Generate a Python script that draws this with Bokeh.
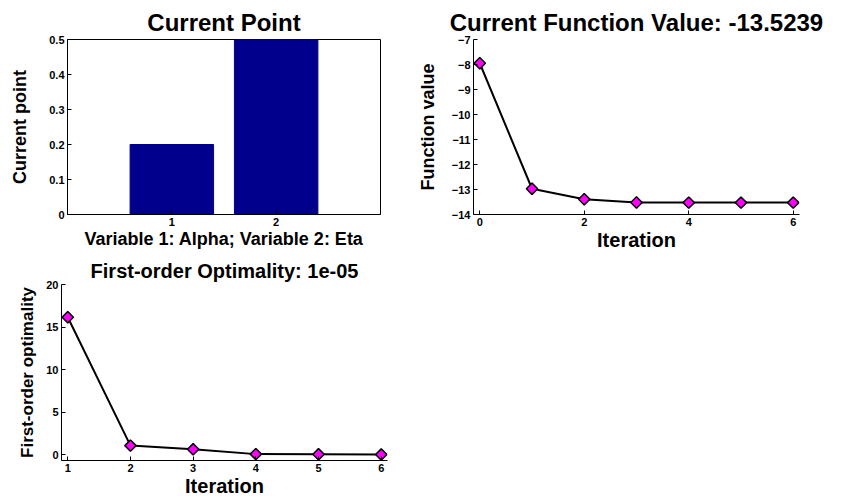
from bokeh.plotting import figure
from bokeh.layouts import column, row
from bokeh.models import Range1d, FixedTicker, Title
from bokeh.embed import file_html
from bokeh.resources import INLINE

# ---- data ----
variables = [1, 2]
current_point = [0.2, 0.5]
var_ticks = [1, 2]
cp_yticks = [0, 0.1, 0.2, 0.3, 0.4, 0.5]

iter_f = [0, 1, 2, 3, 4, 5, 6]
function_values = [-7.95, -12.97, -13.39, -13.52, -13.5239, -13.5239, -13.5239]
f_xticks = [0, 2, 4, 6]
f_yticks = [-14, -13, -12, -11, -10, -9, -8, -7]

iter_o = [1, 2, 3, 4, 5, 6]
optimality = [16.15, 1.05, 0.62, 0.05, 0.03, 0.00001]
o_xticks = [1, 2, 3, 4, 5, 6]
o_yticks = [0, 5, 10, 15, 20]

FONT = "Liberation Sans"
BAR = "#00008C"
MAG = "#FF00FF"


def style_axes(p, ylab_standoff, xlab_size, ylab_size):
    p.xgrid.visible = False
    p.ygrid.visible = False
    for ax in p.axis:
        ax.axis_line_color = "black"
        ax.axis_line_width = 1
        ax.major_tick_in = 4
        ax.major_tick_out = 0
        ax.minor_tick_line_color = None
        ax.major_tick_line_color = "black"
        ax.major_label_text_font = FONT
        ax.major_label_text_font_style = "bold"
        ax.major_label_text_font_size = "11px"
        ax.major_label_text_color = "black"
        ax.axis_label_text_font = FONT
        ax.axis_label_text_font_style = "bold"
        ax.axis_label_text_color = "black"
    p.xaxis.major_label_standoff = 3
    p.xaxis.axis_label_standoff = 0
    p.xaxis.axis_label_text_font_size = xlab_size
    p.yaxis.major_label_standoff = 3
    p.yaxis.axis_label_standoff = ylab_standoff
    p.yaxis.axis_label_text_font_size = ylab_size


def add_title(p, text, standoff, size):
    p.add_layout(Title(text=text, align="center", text_font=FONT,
                       text_font_style="bold", text_font_size=size,
                       text_color="black", standoff=standoff), "above")


# ---- Plot 1: Current Point ----
p1 = figure(width=400, height=253, output_backend="svg", toolbar_location=None,
            x_range=Range1d(0, 3), y_range=Range1d(0, 0.5),
            min_border_left=67, min_border_right=20, min_border_top=38,
            min_border_bottom=37)
p1.vbar(x=variables, top=current_point, width=0.8, fill_color=BAR, line_color=BAR)
p1.xaxis.ticker = FixedTicker(ticks=var_ticks)
p1.yaxis.ticker = FixedTicker(ticks=cp_yticks)
p1.xaxis.axis_label = "Variable 1: Alpha; Variable 2: Eta"
p1.yaxis.axis_label = "Current point"
style_axes(p1, 16, "18px", "18px")
p1.outline_line_color = "black"
p1.outline_line_width = 1
add_title(p1, "Current Point", 8, "24px")

# ---- Plot 2: Current Function Value ----
p2 = figure(width=441, height=253, output_backend="svg", toolbar_location=None,
            x_range=Range1d(-0.12, 6.12), y_range=Range1d(-14, -7),
            min_border_left=73, min_border_right=42, min_border_top=39,
            min_border_bottom=38)
p2.line(iter_f, function_values, line_color="black", line_width=2)
p2.scatter(iter_f, function_values, marker="square", angle=0.785398, size=8,
           fill_color=MAG, line_color="black", line_width=1.5)
p2.xaxis.ticker = FixedTicker(ticks=f_xticks)
p2.yaxis.ticker = FixedTicker(ticks=f_yticks)
p2.xaxis.axis_label = "Iteration"
p2.yaxis.axis_label = "Function value"
style_axes(p2, 11, "20px", "18px")
p2.outline_line_color = None
add_title(p2, "Current Function Value: -13.5239", 8, "24px")

# ---- Plot 3: First-order Optimality ----
p3 = figure(width=400, height=246, output_backend="svg", toolbar_location=None,
            x_range=Range1d(0.9, 6.1), y_range=Range1d(-0.7, 20),
            min_border_left=61, min_border_right=13, min_border_top=31,
            min_border_bottom=38)
p3.line(iter_o, optimality, line_color="black", line_width=2)
p3.scatter(iter_o, optimality, marker="square", angle=0.785398, size=8,
           fill_color=MAG, line_color="black", line_width=1.5)
p3.xaxis.ticker = FixedTicker(ticks=o_xticks)
p3.yaxis.ticker = FixedTicker(ticks=o_yticks)
p3.xaxis.axis_label = "Iteration"
p3.yaxis.axis_label = "First-order optimality"
style_axes(p3, 6, "20px", "17px")
p3.outline_line_color = None
add_title(p3, "First-order Optimality: 1e-05", 5, "20px")

layout = column(row(p1, p2, spacing=0), p3, spacing=0)

open("out.html", "w").write(file_html(layout, INLINE))
